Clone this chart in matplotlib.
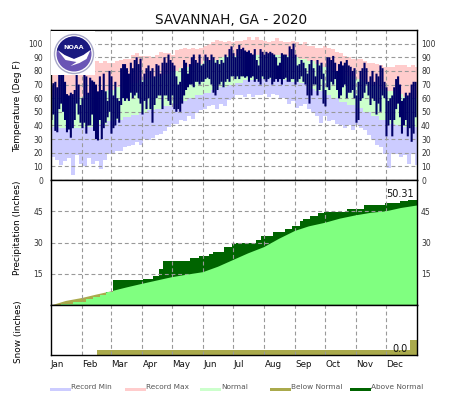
import numpy as np
import matplotlib
matplotlib.use("Agg")
import matplotlib.pyplot as plt
from matplotlib.patches import Circle, Rectangle, Polygon

W, H = 466, 395
month_names = ["Jan", "Feb", "Mar", "Apr", "May", "Jun", "Jul", "Aug", "Sep", "Oct", "Nov", "Dec"]
month_start = [0, 31, 60, 91, 121, 152, 182, 213, 244, 274, 305, 335, 366]

# record max / min, one value every 4 days
rec_max = [80,80,81,80,82,83,84,84, 85,86,86,87,86,87,86, 86,87,88,89,89,92,93,91,
           91,91,90,92,94,93,93,92, 95,96,97,96,97,96,97,98, 100,101,103,102,101,102,101,102,
           102,103,105,103,105,103,102,101, 102,104,102,101,101,102,101,
           100,101,98,98,97,97,98,97, 96,94,93,91,90,89,89, 89,87,86,86,85,84,83,83,
           83,84,84,84,83,84,83,83]
rec_min = [17,15,11,14,16,4,18,12, 10,16,12,14,8,15,19, 20,21,21,24,25,26,28,26,
           30,29,31,33,34,36,39,41, 41,44,43,47,45,49,51,52, 54,55,52,56,54,59,60,62,
           62,61,63,61,62,62,63,61, 63,62,60,60,56,58,53,
           54,56,52,50,47,42,47,43, 44,41,40,38,40,37,40, 38,37,33,30,26,24,19,9,
           20,19,17,18,12,19,11,15]

# normals, one value every 8 days
norm_low = [39,38,38,38, 39,39,41,43, 44,46,48,49, 51,52,54,56, 58,60,62,64, 66,68,70,71,
            73,73,74,74, 74,73,72,71, 67,65,62,60, 57,55,53,50, 47,44,41,40, 39,39]
norm_high = [61,60,60,61, 62,63,65,66, 68,70,71,73, 75,76,78,80, 82,83,85,87, 88,90,91,91,
             92,92,92,92, 92,91,90,89, 87,85,83,80, 78,76,74,72, 70,67,65,63, 61,60]

# observed high / low per month, about one value every 2 days
obs_high = [
    [69,71,72,68,78,79,78,72,63,62,64,63,66,77,70,55],
    [60,77,76,64,75,73,72,70,65,76,66,78,65,58,80],
    [76,62,72,60,58,82,85,85,82,78,86,82,88,90,85,89],
    [72,78,82,84,80,82,76,85,84,78,86,90,86,92,88],
    [86,84,76,70,72,82,88,86,78,85,90,92,88,86,92,84],
    [85,92,90,88,92,90,86,88,85,88,86,92,90,96,98],
    [93,90,96,99,96,97,95,94,95,93,92,96,88,84,96,94],
    [92,94,93,94,93,92,90,84,86,93,92,92,90,98,96,100],
    [92,84,85,88,86,82,78,85,88,82,76,88,84,86,78],
    [66,90,90,88,91,86,80,85,87,84,86,88,84,83,80,82],
    [62,72,80,82,86,82,72,76,80,72,78,76,84,82,72],
    [68,58,60,62,68,74,76,70,58,60,64,62,64,70,72,72],
]
obs_low = [
    [44,48,36,35,52,56,50,44,35,37,31,38,44,56,48,42],
    [38,42,34,40,40,48,36,30,29,44,30,38,42,46,50],
    [34,38,40,45,42,55,60,58,60,58,64,60,62,64,60,56],
    [48,58,52,60,52,42,55,60,62,62,52,62,62,58,55],
    [62,52,50,52,50,56,62,66,68,70,70,68,72,72,70,72],
    [72,74,75,74,70,64,62,66,70,72,68,72,74,72,76],
    [76,74,76,74,76,76,75,76,72,75,76,72,74,72,70,76],
    [74,72,74,75,70,72,74,72,74,70,74,75,72,72,74,74],
    [70,72,74,76,72,70,62,56,62,70,70,62,66,74,56],
    [54,68,66,72,70,74,66,60,62,68,70,60,64,64,66,60],
    [42,44,58,60,64,70,62,55,60,58,48,56,50,62,60],
    [32,40,44,32,44,52,56,46,34,40,44,32,38,28,34,46],
]

# precipitation
norm_precip_days = [0,15,31,45,60,75,91,106,121,136,152,167,182,197,213,228,244,258,274,289,305,320,335,350,366]
norm_precip = [0,2.2,3.6,5.2,6.8,8.6,10.4,12,13.6,14.8,16,18.6,21.8,25,28,32,35.8,38,39.7,41.7,43.3,44.5,45.2,46.8,48]
obs_precip_days = [0,10,22,35,42,49,55,62,92,97,102,108,112,139,148,158,162,173,181,185,205,210,222,
                   234,241,249,252,259,267,273,296,313,334,349,357,366]
obs_precip = [0.2,0.4,1.3,2.7,3.9,5,6.2,12,12.3,12.5,13.9,17.1,21,22.4,23.5,24.5,25.4,28,29.3,29.9,31.2,33.1,34.9,
              36.5,37.9,40.3,41.3,42.7,44,44.8,45.9,48,48.8,49.8,50.31,50.31]

# snow
snow_days = [0,46,359,366]
snow_normal = [0,0.1,0.3,0.3]

temp_ticks = [0,10,20,30,40,50,60,70,80,90,100]
precip_ticks = [15,30,45]

C_MIN, C_MAX, C_NORM = "#ccccff", "#ffcccc", "#ccffcc"
C_BELOW, C_ABOVE, C_PNORM, C_OBS = "#aaaa4c", "#006400", "#80ff80", "#000066"
GRID = "#999999"

fig = plt.figure(figsize=(W / 100, H / 100), dpi=100)

def panel(top, bottom):
    ax = fig.add_axes([50.5 / W, 1 - bottom / H, 366 / W, (bottom - top) / H])
    ax.set_xlim(0, 366)
    ax.set_xticks(month_start[1:-1])
    ax.set_xticklabels([])
    ax.tick_params(length=0)
    ax.grid(True, color=GRID, ls=(0, (3.5, 2.5)), lw=0.8, zorder=10)
    ax.set_axisbelow(False)
    for s in ax.spines.values():
        s.set_linewidth(1.0)
        s.set_zorder(12)
    return ax

def steps(vals, every):
    x = np.arange(len(vals) + 1) * every
    return x, list(vals) + [vals[-1]]

# temperature
ax1 = panel(30, 180)
ax1.set_ylim(0, 110)
x, y = steps(rec_max, 4)
ax1.fill_between(x, 0, y, step="post", color=C_MAX, lw=0)
x, y = steps(norm_high, 8)
ax1.fill_between(x, 0, y, step="post", color=C_NORM, lw=0)
x, y = steps(norm_low, 8)
ax1.fill_between(x, 0, y, step="post", color=C_MIN, lw=0)
x, y = steps(rec_min, 4)
ax1.fill_between(x, 0, y, step="post", color="white", lw=0)
for m in range(12):
    n = len(obs_high[m])
    w = (month_start[m + 1] - month_start[m]) / n
    xs = month_start[m] + (np.arange(n) + 0.5) * w
    lines = ax1.vlines(xs, obs_low[m], obs_high[m], color=C_OBS, lw=1.5, zorder=3)
    lines.set_snap(False)
ax1.set_yticks(temp_ticks)
ax1.set_yticklabels([])

# precipitation
ax2 = panel(180, 305)
ax2.set_ylim(0, 60)
ax2.fill_between(norm_precip_days, 0, norm_precip, color=C_BELOW, lw=0, zorder=1)
dark = ax2.fill_between(obs_precip_days, 0, obs_precip, step="post", color=C_ABOVE, lw=0, zorder=2)
light = ax2.fill_between(norm_precip_days, 0, norm_precip, color=C_PNORM, lw=0, zorder=3)
light.set_clip_path(dark.get_paths()[0], ax2.transData)
ax2.set_yticks(precip_ticks)
ax2.set_yticklabels([])

# snow
ax3 = panel(305, 355)
ax3.set_ylim(0, 1)
ax3.fill_between(snow_days, 0, snow_normal, step="post", color=C_BELOW, lw=0)
ax3.set_yticks([])

def ftext(px, py, s, **kw):
    return fig.text(px / W, 1 - py / H, s, **kw)

ftext(231, 20, "SAVANNAH, GA - 2020", ha="center", va="center", fontsize=9.8, color="#111111")
ftext(18, 106, "Temperature (Deg F)", rotation=90, ha="center", va="center", fontsize=6.4)
ftext(18, 227.5, "Precipitation (Inches)", rotation=90, ha="center", va="center", fontsize=6.4)
ftext(18, 332, "Snow (inches)", rotation=90, ha="center", va="center", fontsize=6.4)

for t in temp_ticks:
    py = 180 - t * 150 / 110 + 1
    ftext(43, py, str(t), ha="right", va="center", fontsize=5.5, color="#333333")
    ftext(421, py, str(t), ha="left", va="center", fontsize=5.5, color="#333333")
for t in precip_ticks:
    py = 305 - t * 125 / 60 + 1
    ftext(43, py, str(t), ha="right", va="center", fontsize=5.5, color="#333333")
    ftext(421, py, str(t), ha="left", va="center", fontsize=5.5, color="#333333")

for m, name in enumerate(month_names):
    ftext(50.5 + month_start[m] + (1 if m else 0), 364.5, name, ha="left", va="center", fontsize=6.3, color="#111111")

ftext(414, 194.5, "50.31", ha="right", va="center", fontsize=7, color="#111111", zorder=20)
ftext(408, 349.5, "0.0", ha="right", va="center", fontsize=7, color="#111111", zorder=20)

# legend
legend_names = ["Record Min", "Record Max", "Normal", "Below Normal", "Above Normal"]
legend_x = [50, 125, 200, 270, 350]
legend_c = [C_MIN, C_MAX, C_NORM, C_BELOW, C_ABOVE]
for name, lx, c in zip(legend_names, legend_x, legend_c):
    fig.add_artist(Rectangle((lx / W, 1 - 391 / H), 21 / W, 3 / H, transform=fig.transFigure, color=c, lw=0))
    ftext(lx + 21, 387, name, ha="left", va="center", fontsize=5.3, color="#555555")

# NOAA logo
logo = fig.add_axes([50.5 / W, 1 - 75 / H, 44 / W, 44 / H])
logo.set_xlim(0, 44)
logo.set_ylim(44, 0)
logo.axis("off")
logo.set_zorder(5)
logo.add_patch(Rectangle((0, 0), 44, 44, color="white", lw=0))
logo.add_patch(Circle((23.5, 23), 19.5, fc="white", ec="#a8a8c8", lw=1.0))
logo.add_patch(Circle((23.5, 23), 17.5, fc="#6a55b5", lw=0))
top = Circle((23.5, 23), 17.5, fc="#1a1a80", lw=0)
logo.add_patch(top)
top.set_clip_path(Polygon([(0, 0), (44, 0), (44, 17), (37, 21), (30, 26), (23.5, 28), (17, 26), (10, 21), (0, 17)], transform=logo.transData))
logo.add_patch(Polygon([(7, 19), (14, 24), (23.5, 28), (33, 24), (40, 19), (36, 28), (29, 32), (20, 35), (26, 31), (15, 29)], fc="white", lw=0))
logo.text(23.5, 16.5, "NOAA", ha="center", va="center", color="white", fontsize=4.6, fontweight="bold")

fig.savefig("out.png", dpi=100)
